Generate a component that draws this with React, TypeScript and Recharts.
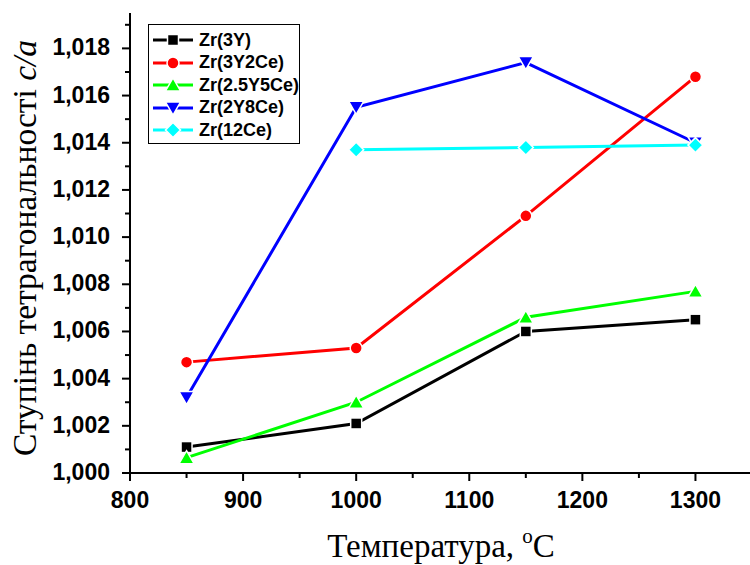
import React from "react";
import { LineChart, Line, XAxis, YAxis, Legend } from "recharts";

// temperature (°C) at which each sample was measured
const temps = [850, 1000, 1150, 1300];

// tetragonality c/a per composition
const zr3Y = [1.0011, 1.0021, 1.006, 1.0065];
const zr3Y2Ce = [1.0047, 1.0053, 1.0109, 1.0168];
const zr25Y5Ce = [1.00065, 1.003, 1.0066, 1.0077];
const zr2Y8Ce = [1.0032, 1.0155, 1.0174, 1.014];
const zr12Ce = [null, 1.0137, 1.0138, 1.0139];

const xTicks = [800, 850, 900, 950, 1000, 1050, 1100, 1150, 1200, 1250, 1300];
const yTicks = [
  1.0, 1.001, 1.002, 1.003, 1.004, 1.005, 1.006, 1.007, 1.008, 1.009, 1.01,
  1.011, 1.012, 1.013, 1.014, 1.015, 1.016, 1.017, 1.018, 1.019,
];

const series = [
  { key: "a", name: "Zr(3Y)", values: zr3Y, color: "#000000", shape: "square" },
  { key: "b", name: "Zr(3Y2Ce)", values: zr3Y2Ce, color: "#ff0000", shape: "circle" },
  { key: "c", name: "Zr(2.5Y5Ce)", values: zr25Y5Ce, color: "#00ff00", shape: "up" },
  { key: "d", name: "Zr(2Y8Ce)", values: zr2Y8Ce, color: "#0000ff", shape: "down" },
  { key: "e", name: "Zr(12Ce)", values: zr12Ce, color: "#00ffff", shape: "diamond" },
];

const data = temps.map((t, i) => {
  const row: any = { t };
  series.forEach((s) => {
    if (s.values[i] != null) row[s.key] = s.values[i];
  });
  return row;
});

const SANS = "'Liberation Sans', Arial, sans-serif";
const SERIF = "'Liberation Serif', 'Times New Roman', serif";

function Marker({ shape, cx, cy, color }: any) {
  const common = { fill: color, stroke: "#fff", strokeWidth: 1.5 };
  switch (shape) {
    case "square":
      return <rect x={cx - 5.5} y={cy - 5.5} width={11} height={11} {...common} />;
    case "circle":
      return <circle cx={cx} cy={cy} r={6} {...common} />;
    case "up":
      return (
        <polygon
          points={`${cx},${cy - 7} ${cx + 7.5},${cy + 6} ${cx - 7.5},${cy + 6}`}
          {...common}
        />
      );
    case "down":
      return (
        <polygon
          points={`${cx - 7.5},${cy - 6} ${cx + 7.5},${cy - 6} ${cx},${cy + 7}`}
          {...common}
        />
      );
    default:
      return (
        <polygon
          points={`${cx},${cy - 7.5} ${cx + 7.5},${cy} ${cx},${cy + 7.5} ${cx - 7.5},${cy}`}
          {...common}
        />
      );
  }
}

function XTick({ x, y, payload }: any) {
  const major = payload.value % 100 === 0;
  return (
    <g>
      <line x1={x} x2={x} y1={y} y2={y + (major ? 8 : 5)} stroke="#000" strokeWidth={2} />
      {major && (
        <text
          x={x}
          y={y + 35}
          textAnchor="middle"
          fontFamily={SANS}
          fontWeight="bold"
          fontSize={23}
          fill="#000"
        >
          {payload.value}
        </text>
      )}
    </g>
  );
}

function YTick({ x, y, payload }: any) {
  const major = Math.round(payload.value * 1000) % 2 === 0;
  return (
    <g>
      <line x1={x - (major ? 8 : 5)} x2={x} y1={y} y2={y} stroke="#000" strokeWidth={2} />
      {major && (
        <text
          x={x - 20}
          y={y + 7}
          textAnchor="end"
          fontFamily={SANS}
          fontWeight="bold"
          fontSize={23}
          fill="#000"
        >
          {payload.value.toFixed(3).replace(".", ",")}
        </text>
      )}
    </g>
  );
}

function LegendBox() {
  return (
    <div
      style={{
        width: 152,
        height: 120,
        boxSizing: "border-box",
        border: "1.5px solid #000",
        background: "#fff",
        paddingTop: 4,
      }}
    >
      {series.map((s) => (
        <div
          key={s.key}
          style={{ display: "flex", alignItems: "center", height: 22.5 }}
        >
          <svg width={50} height={20} style={{ flex: "none" }}>
            <line x1={4} x2={44} y1={10} y2={10} stroke={s.color} strokeWidth={3} />
            <Marker shape={s.shape} cx={24} cy={10} color={s.color} />
          </svg>
          <span
            style={{
              fontFamily: SANS,
              fontWeight: "bold",
              fontSize: 18,
              color: "#000",
              whiteSpace: "nowrap",
            }}
          >
            {s.name}
          </span>
        </div>
      ))}
    </div>
  );
}

export default function App() {
  return (
    <div
      style={{
        position: "absolute",
        left: 0,
        top: 0,
        width: 750,
        height: 565,
        overflow: "hidden",
        background: "#fff",
      }}
    >
      <LineChart
        width={752}
        height={565}
        data={data}
        margin={{ top: 13, right: 0, bottom: 0, left: 0 }}
      >
        <XAxis
          dataKey="t"
          type="number"
          domain={[800, 1350]}
          ticks={xTicks}
          interval={0}
          height={92}
          tickSize={0}
          tickMargin={0}
          tick={<XTick />}
          tickLine={false}
          axisLine={{ stroke: "#000", strokeWidth: 2 }}
          label={{
            content: ({ viewBox }: any) => (
              <text
                x={viewBox.x + 311}
                y={viewBox.y + 84}
                textAnchor="middle"
                fontFamily={SERIF}
                fontSize={33}
                fill="#000"
              >
                Температура,{" "}
                <tspan fontSize={21} dy={-14}>
                  o
                </tspan>
                <tspan dy={14}>C</tspan>
              </text>
            ),
          }}
        />
        <YAxis
          type="number"
          domain={[1.0, 1.0195]}
          ticks={yTicks}
          interval={0}
          width={130}
          tickSize={0}
          tickMargin={0}
          tick={<YTick />}
          tickLine={false}
          allowDataOverflow
          axisLine={{ stroke: "#000", strokeWidth: 2 }}
          label={{
            content: () => (
              <text
                x={36}
                y={248}
                transform="rotate(-90, 36, 248)"
                textAnchor="middle"
                fontFamily={SERIF}
                fontSize={33.5}
                fill="#000"
              >
                Ступінь тетрагональності <tspan fontStyle="italic">c/a</tspan>
              </text>
            ),
          }}
        />
        <Legend
          layout="vertical"
          align="center"
          verticalAlign="middle"
          wrapperStyle={{ left: 148, top: 24, width: 152 }}
          content={() => <LegendBox />}
        />
        {series.map((s) => (
          <Line
            key={s.key}
            dataKey={s.key}
            name={s.name}
            stroke={s.color}
            strokeWidth={3}
            type="linear"
            isAnimationActive={false}
            dot={(p: any) =>
              p.cy == null ? (
                <g key={`${s.key}-${p.index}`} />
              ) : (
                <Marker
                  key={`${s.key}-${p.index}`}
                  shape={s.shape}
                  cx={p.cx}
                  cy={p.cy}
                  color={s.color}
                />
              )
            }
            activeDot={false}
          />
        ))}
      </LineChart>
    </div>
  );
}
